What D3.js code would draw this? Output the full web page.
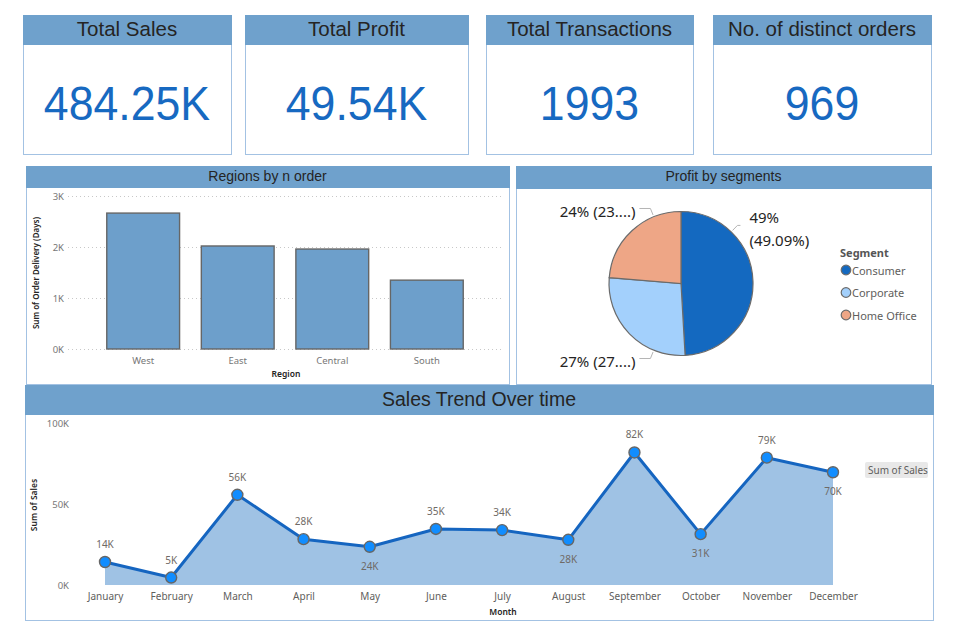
<!DOCTYPE html>
<html>
<head>
<meta charset="utf-8">
<script src="https://cdn.jsdelivr.net/npm/d3@7"></script>
<style>
  body { margin: 0; background: #fff; }
  svg { display: block; }
</style>
</head>
<body>
<svg id="dash" width="960" height="635"></svg>
<script>
// ---- data ----
const kpiTitles = ["Total Sales", "Total Profit", "Total Transactions", "No. of distinct orders"];
const kpiValues = ["484.25K", "49.54K", "1993", "969"];

const regions = ["West", "East", "Central", "South"];
const regionDelivery = [2665, 2020, 1960, 1350];
const deliveryTicks = [0, 1000, 2000, 3000];

const segments = ["Consumer", "Corporate", "Home Office"];
const segmentProfit = [24320, 13475, 11745];
const segmentColors = ["#1469c0", "#a3d0fc", "#eea686"];

const months = ["January", "February", "March", "April", "May", "June", "July",
  "August", "September", "October", "November", "December"];
const monthlySales = [14200, 4600, 55700, 28300, 23600, 34600, 33900, 27900, 81800, 31400, 78600, 69600];
const salesTicks = [0, 50000, 100000];
// labels drawn under the point in the report
const labelBelow = ["May", "August", "October", "December"];

// ---- layout ----
const HEAD = "#6fa1cc", BORDER = "#a3c2e3", TITLE = "#252423", GREY = "#605e5c";
const titleFont = "'Liberation Sans', Arial, sans-serif";
const labelFont = "'Noto Sans', 'Open Sans', sans-serif";

const svg = d3.select("#dash");

function panel(x0, x1, y0, y1, headH, title, size) {
  const g = svg.append("g");
  g.append("rect").attr("x", x0 + 0.5).attr("y", y0 + 0.5)
    .attr("width", x1 - x0).attr("height", y1 - y0)
    .attr("fill", "#fff").attr("stroke", BORDER);
  g.append("rect").attr("x", x0).attr("y", y0)
    .attr("width", x1 - x0 + 1).attr("height", headH).attr("fill", HEAD);
  g.append("text").attr("x", (x0 + x1) / 2).attr("y", y0 + headH / 2 - 1.5)
    .attr("text-anchor", "middle").attr("dominant-baseline", "central")
    .attr("font-family", titleFont).attr("font-size", size).attr("fill", TITLE)
    .text(title);
  return g;
}

// ---- KPI cards ----
const cardX = [[23, 231], [245, 468], [486, 693], [713, 931]];
kpiTitles.forEach((t, i) => {
  const [x0, x1] = cardX[i];
  const g = panel(x0, x1, 15, 154, 30, t, 20.5);
  // the report font is a narrow DIN, so squeeze the glyphs a little
  g.append("text").attr("transform", `translate(${(x0 + x1) / 2},103) scale(0.93,1)`)
    .attr("text-anchor", "middle").attr("dominant-baseline", "central")
    .attr("font-family", titleFont).attr("font-size", 48).attr("fill", "#1769c1")
    .text(kpiValues[i]);
});

// ---- Regions bar chart ----
{
  const g = panel(26, 509, 166, 384, 22, "Regions by n order", 14);
  const x = d3.scaleBand().domain(regions).range([68, 502])
    .paddingInner(0.23).paddingOuter(0.41);
  const y = d3.scaleLinear().domain([0, 3000]).range([349, 196]);

  g.append("g").selectAll("line").data(deliveryTicks).join("line")
    .attr("x1", 68).attr("x2", 502)
    .attr("y1", d => y(d) + 0.5).attr("y2", d => y(d) + 0.5)
    .attr("stroke", "#c8c8c8").attr("stroke-dasharray", "1,3");

  const ya = g.append("g").attr("transform", "translate(64,0)")
    .call(d3.axisLeft(y).tickValues(deliveryTicks).tickSize(0).tickPadding(0)
      .tickFormat(d => d / 1000 + "K"));
  ya.select(".domain").remove();
  ya.selectAll("text").attr("font-family", labelFont).attr("font-size", 9.5).attr("fill", "#777");

  g.append("g").selectAll("rect").data(regions).join("rect")
    .attr("x", d => x(d)).attr("width", x.bandwidth())
    .attr("y", (d, i) => y(regionDelivery[i]))
    .attr("height", (d, i) => y(0) - y(regionDelivery[i]))
    .attr("fill", "#6d9fcb").attr("stroke", "#666").attr("stroke-width", 1.4);

  const xa = g.append("g").attr("transform", "translate(0,357)")
    .call(d3.axisBottom(x).tickSize(0).tickPadding(0));
  xa.select(".domain").remove();
  xa.selectAll("text").attr("font-family", labelFont).attr("font-size", 9.5).attr("fill", "#777");

  g.append("text").attr("x", 286).attr("y", 377).attr("text-anchor", "middle")
    .attr("font-family", labelFont).attr("font-size", 8.5).attr("font-weight", 600)
    .attr("fill", TITLE).text("Region");
  g.append("text").attr("transform", "translate(39,273) rotate(-90)")
    .attr("text-anchor", "middle")
    .attr("font-family", labelFont).attr("font-size", 8).attr("font-weight", 600)
    .attr("fill", TITLE).text("Sum of Order Delivery (Days)");
}

// ---- Profit pie ----
{
  const g = panel(516, 931, 166, 384, 23, "Profit by segments", 14);
  const cx = 681, cy = 283.5, r = 72;
  const total = d3.sum(segmentProfit);
  const arcs = d3.pie().sort(null)(segmentProfit);
  const arc = d3.arc().innerRadius(0).outerRadius(r);
  const pg = g.append("g").attr("transform", `translate(${cx},${cy})`);
  pg.selectAll("path").data(arcs).join("path")
    .attr("d", arc).attr("fill", (d, i) => segmentColors[i])
    .attr("stroke", "#6b6b6b").attr("stroke-width", 1.2);

  // where the leader line leaves each slice (fraction of the slice's sweep)
  const leaderAt = [0.25, 0.26, 0.74];
  arcs.forEach((a, i) => {
    const ang = a.startAngle + (a.endAngle - a.startAngle) * leaderAt[i];
    const pt = rr => [Math.sin(ang) * rr, -Math.cos(ang) * rr];
    const p1 = pt(r + 2), p2 = pt(r + 9);
    const right = Math.sin(ang) > 0;
    const p3 = [p2[0] + (right ? 3 : -11), p2[1]];
    pg.append("polyline").attr("points", [p1, p2, p3].map(p => p.join(",")).join(" "))
      .attr("fill", "none").attr("stroke", "#b5b5b5").attr("stroke-width", 1);
    const pct = segmentProfit[i] / total * 100;
    const t = pg.append("text").attr("font-family", labelFont).attr("font-size", 15)
      .attr("fill", TITLE).attr("text-anchor", right ? "start" : "end");
    if (right) {
      t.attr("x", p3[0] + 9).attr("y", p3[1] - 8);
      t.append("tspan").attr("x", p3[0] + 9).attr("dy", 0).text(Math.round(pct) + "%");
      t.append("tspan").attr("x", p3[0] + 9).attr("dy", 23).text("(" + pct.toFixed(2) + "%)");
      t.attr("dominant-baseline", "central");
    } else {
      t.attr("x", p3[0] - 4).attr("y", p3[1] + 2).attr("dominant-baseline", "central")
        .text(Math.round(pct) + "% (" + Math.floor(pct) + "....)");
    }
  });

  const lg = g.append("g");
  lg.append("text").attr("x", 840).attr("y", 252).attr("dominant-baseline", "central")
    .attr("font-family", labelFont).attr("font-size", 11).attr("font-weight", 700)
    .attr("fill", "#555").text("Segment");
  const ly = d3.scalePoint().domain(segments).range([270, 315]);
  lg.selectAll("circle").data(segments).join("circle")
    .attr("cx", 846).attr("cy", d => ly(d)).attr("r", 4.8)
    .attr("fill", (d, i) => segmentColors[i]).attr("stroke", "#6b6b6b").attr("stroke-width", 1.2);
  lg.selectAll("text.item").data(segments).join("text").attr("class", "item")
    .attr("x", 852).attr("y", d => ly(d)).attr("dominant-baseline", "central")
    .attr("font-family", labelFont).attr("font-size", 11).attr("fill", GREY).text(d => d);
}

// ---- Sales trend ----
{
  const g = panel(25, 933, 385, 620, 30, "Sales Trend Over time", 19.5);
  const x = d3.scalePoint().domain(months).range([105, 833]);
  const y = d3.scaleLinear().domain([0, 100000]).range([585, 423]);
  const pts = months.map((m, i) => ({ m, v: monthlySales[i] }));

  const ya = g.append("g").attr("transform", "translate(69,0)")
    .call(d3.axisLeft(y).tickValues(salesTicks).tickSize(0).tickPadding(0)
      .tickFormat(d => d / 1000 + "K"));
  ya.select(".domain").remove();
  ya.selectAll("text").attr("font-family", labelFont).attr("font-size", 9.5).attr("fill", "#777");

  g.append("path").datum(pts)
    .attr("d", d3.area().x(d => x(d.m)).y0(y(0)).y1(d => y(d.v)))
    .attr("fill", "#9fc2e4");
  g.append("path").datum(pts)
    .attr("d", d3.line().x(d => x(d.m)).y(d => y(d.v)))
    .attr("fill", "none").attr("stroke", "#1565c0").attr("stroke-width", 3)
    .attr("stroke-linejoin", "round");
  g.selectAll("circle").data(pts).join("circle")
    .attr("cx", d => x(d.m)).attr("cy", d => y(d.v)).attr("r", 5.5)
    .attr("fill", "#118dff").attr("stroke", "#666").attr("stroke-width", 1.4);
  g.selectAll("text.val").data(pts).join("text").attr("class", "val")
    .attr("x", d => x(d.m))
    .attr("y", d => y(d.v) + (labelBelow.includes(d.m) ? 19 : -18))
    .attr("text-anchor", "middle").attr("dominant-baseline", "central")
    .attr("font-family", labelFont).attr("font-size", 10).attr("fill", "#6f6a66")
    .text(d => Math.round(d.v / 1000) + "K");

  const xa = g.append("g").attr("transform", "translate(0,593)")
    .call(d3.axisBottom(x).tickSize(0).tickPadding(0));
  xa.select(".domain").remove();
  xa.selectAll("text").attr("font-family", labelFont).attr("font-size", 10).attr("fill", GREY);

  g.append("text").attr("x", 503).attr("y", 611).attr("text-anchor", "middle")
    .attr("dominant-baseline", "central")
    .attr("font-family", labelFont).attr("font-size", 8.5).attr("font-weight", 600)
    .attr("fill", TITLE).text("Month");
  g.append("text").attr("transform", "translate(37,505) rotate(-90)")
    .attr("text-anchor", "middle")
    .attr("font-family", labelFont).attr("font-size", 8.5).attr("font-weight", 600)
    .attr("fill", TITLE).text("Sum of Sales");

  g.append("rect").attr("x", 865).attr("y", 462).attr("width", 63).attr("height", 16)
    .attr("rx", 2).attr("fill", "#e8e8e8");
  g.append("text").attr("x", 868).attr("y", 470).attr("dominant-baseline", "central")
    .attr("font-family", labelFont).attr("font-size", 10).attr("fill", GREY).text("Sum of Sales");
}
</script>
</body>
</html>
